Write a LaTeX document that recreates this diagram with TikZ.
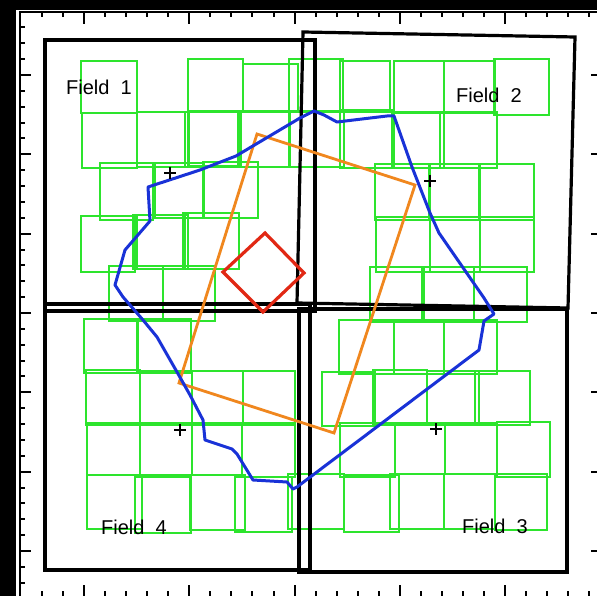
\documentclass[tikz,border=0pt]{standalone}
\usepackage{fontspec}
\setmainfont{Liberation Sans}
\definecolor{sqgreen}{RGB}{45,228,45}
\definecolor{pathblue}{RGB}{25,50,215}
\definecolor{pathorange}{RGB}{240,135,30}
\definecolor{pathred}{RGB}{225,40,20}
\begin{document}
\begin{tikzpicture}[x=1pt,y=-1pt,
  fieldbox/.style={draw=black,line width=3.2pt,line join=miter},
  gsq/.style={draw=sqgreen,line width=2.2pt},
  tickline/.style={draw=black,line width=2pt},
  lbl/.style={font=\fontsize{20}{20}\selectfont,inner sep=0pt,anchor=base west},
  plusmark/.style={draw=black,line width=1.6pt},
  bluepath/.style={draw=pathblue,line width=3pt,line join=round},
  orangepath/.style={draw=pathorange,line width=2.8pt,line join=miter},
  redpath/.style={draw=pathred,line width=3.2pt,line join=miter}]
\useasboundingbox (0,0) rectangle (597,596);
\clip (0,0) rectangle (597,596);
\fill[white] (0,0) rectangle (597,596);
\fill[black] (0,0) rectangle (16,596);
\fill[black] (0,0) rectangle (597,10);
% axes
\draw[tickline] (19.5,597) -- (19.5,12.5) -- (598,12.5);
\foreach \i in {1,...,27}{
  \pgfmathsetmacro\xx{20.9+21.05*\i}
  \pgfmathtruncatemacro\m{mod(\i,5)}
  \ifnum\m=3
    \draw[tickline] (\xx,12.5) -- (\xx,24);
    \draw[tickline] (\xx,597) -- (\xx,585);
  \else
    \draw[tickline] (\xx,12.5) -- (\xx,17.5);
    \draw[tickline] (\xx,597) -- (\xx,591);
  \fi
}
\foreach \j in {1,...,36}{
  \pgfmathsetmacro\yy{11.5+15.867*\j}
  \pgfmathtruncatemacro\m{mod(\j,5)}
  \ifnum\m=4
    \draw[tickline] (19.5,\yy) -- (31,\yy);
    \draw[tickline] (591,\yy) -- (598,\yy);
  \else
    \draw[tickline] (19.5,\yy) -- (25,\yy);
  \fi
}
% green squares
\foreach \a/\b/\c/\d in {
  81/61/137/113, 188/59/243/111, 243/64/298/111, 289/59/343/112, 340/61/390/112,
  394/61/444/113, 444/61/495/113, 494/59/549/115,
  82/113/137/168, 137/112/188/167, 185/112/238/167, 189/112/241/166, 240/112/290/167,
  289/111/344/167, 340/110/394/168, 392/112/444/168, 440/112/497/168,
  100/163/153/220, 155/163/204/218, 203/162/258/218, 375/164/430/220, 429/164/480/220, 479/164/534/220,
  81/216/135/272, 133/215/185/269, 137/215/188/269, 183/213/239/269, 376/217/430/272, 430/217/480/272, 480/217/534/272,
  109/266/163/321, 163/266/215/321, 370/267/424/322, 422/267/474/322, 474/267/527/322,
  84/319/138/373, 137/319/191/373, 339/320/394/374, 394/320/444/374, 444/320/497/374,
  86/370/140/425, 140/371/192/425, 192/371/243/425, 243/371/295/425,
  322/372/375/426, 373/370/427/425, 427/371/479/425, 475/371/530/425,
  87/423/140/475, 140/423/192/475, 192/423/242/475, 242/423/295/477,
  340/423/395/477, 395/423/445/474, 445/423/497/474, 497/422/550/477,
  87/475/142/529, 135/477/191/533, 190/475/245/530, 235/477/292/532, 288/474/344/529,
  344/475/399/532, 390/474/444/529, 444/474/495/529, 495/474/547/530}
  \draw[gsq] (\a,\b) rectangle (\c,\d);
% fields
\draw[fieldbox] (45,40) rectangle (315,311);
\draw[fieldbox] (303,32) -- (575,37) -- (568,308) -- (297,303) -- cycle;
\draw[fieldbox] (299,309) rectangle (567,572);
\draw[fieldbox] (45,304) rectangle (310,570);
% polygons
\draw[orangepath] (257,134) -- (415,185) -- (334,433) -- (179,383) -- cycle;
\draw[bluepath] (394,116) -- (412,167) -- (430,213) -- (439,233) -- (484,298) -- (494,314) -- (484,321)
  -- (479,350) -- (297,487) -- (293,489) -- (287,482) -- (253,480) -- (237,454) -- (232,449)
  -- (205,440) -- (203,420) -- (190,395) -- (177,372) -- (157,337) -- (143,320) -- (123,297)
  -- (115,285) -- (125,250) -- (150,221) -- (148,187) -- (200,170) -- (236,156) -- (300,118)
  -- (314,111) -- (324,115) -- (337,122) -- (387,116) -- cycle;
\draw[redpath] (265,233) -- (304,273) -- (263,312) -- (223,272) -- cycle;
% plus markers
\foreach \px/\py in {170/173, 430/181, 180/430, 436/429}{
  \draw[plusmark] (\px-6,\py) -- (\px+6,\py);
  \draw[plusmark] (\px,\py-6) -- (\px,\py+6);
}
% labels
\node[lbl] (f1) at (66,95) {Field\ \ 1};
\node[lbl] (f2) at (456,103) {Field\ \ 2};
\node[lbl] (f4) at (101,534) {Field\ \ 4};
\node[lbl] (f3) at (462,533) {Field\ \ 3};
\end{tikzpicture}
\end{document}
